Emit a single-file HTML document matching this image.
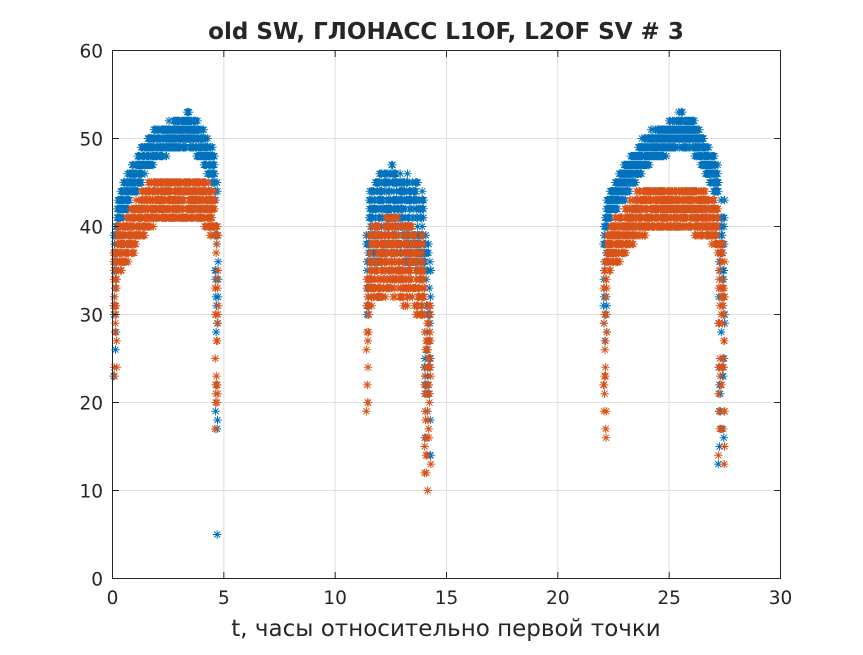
<!DOCTYPE html>
<html><head><meta charset="utf-8"><style>
body{margin:0;background:#fff}
svg text{font-family:"DejaVu Sans","Liberation Sans",sans-serif;fill:#262626}
</style></head><body>
<svg id="s" width="863" height="650" xmlns="http://www.w3.org/2000/svg">
<rect width="863" height="650" fill="#fff"/>
<g id="grid" stroke="#dfdfdf" stroke-width="1"></g>
<g id="data"></g>
<rect x="112.5" y="50.5" width="668" height="528" fill="none" stroke="#262626" stroke-width="1"/>
<g id="ticks" stroke="#262626"></g>
<g id="lbl" font-size="18.5"></g>
<text x="446" y="39" font-size="23" font-weight="bold" text-anchor="middle" fill="#000">old SW, ГЛОНАСС L1OF, L2OF SV # 3</text>
<text x="446" y="636" font-size="23" text-anchor="middle">t, часы относительно первой точки</text>
</svg>
<script>
var X=function(t){return 112.5+t*668/30},Y=function(v){return 578.5-v*528/60};
var g=document.getElementById('grid'),tk=document.getElementById('ticks'),lb=document.getElementById('lbl');
var ns='http://www.w3.org/2000/svg';
function el(p,n,a,txt){var e=document.createElementNS(ns,n);for(var k in a)e.setAttribute(k,a[k]);if(txt!=null)e.textContent=txt;p.appendChild(e);return e;}
for(var i=0;i<=6;i++){var x=X(i*5);el(g,'line',{x1:x,x2:x,y1:50.5,y2:578.5});el(tk,'line',{x1:x,x2:x,y1:578.5,y2:572});el(tk,'line',{x1:x,x2:x,y1:50.5,y2:57});
el(lb,'text',{x:x,y:604,'text-anchor':'middle'},String(i*5));}
for(var i=0;i<=6;i++){var y=Y(i*10);el(g,'line',{x1:112.5,x2:780.5,y1:y,y2:y});el(tk,'line',{x1:112.5,x2:119,y1:y,y2:y});el(tk,'line',{x1:780.5,x2:774,y1:y,y2:y});
el(lb,'text',{x:103,y:y+7,'text-anchor':'end'},String(i*10));}
var seed=7;function r(){seed=(seed*16807)%2147483647;return seed/2147483647;}
function interp(pts,t){for(var i=0;i<pts.length-1;i++){if(t<=pts[i+1][0]){var a=pts[i],b=pts[i+1];return a[1]+(b[1]-a[1])*(t-a[0])/(b[0]-a[0]);}}return pts[pts.length-1][1];}
var passes=[
 {t0:0.05,t1:4.75,B:[[0,40],[0.5,43],[1,45.5],[1.5,48],[2,49.5],[3,50.5],[3.5,51],[4,49.5],[4.5,47],[4.75,46]],O:[[0,37],[0.5,38],[1,40],[1.5,42],[2,43],[3,43],[4,43],[4.5,41.5],[4.75,40]],sB:3.5,sO:5,eL:0.15,eR:0.15,lB:23,lO:23,rB:12,rO:13},
 {t0:11.4,t1:14.3,B:[[11.4,39],[12,41],[12.5,42],[13,41],[13.5,40],[14,40],[14.3,38]],O:[[11.4,35],[12,36],[12.5,37],[13,36],[13.5,35],[14,34],[14.3,31]],sB:10,sO:9,eL:0.12,eR:0.3,lB:28,lO:17,rB:11,rO:9},
 {t0:22.05,t1:27.5,B:[[22,41],[22.5,43],[23,45],[23.5,47],[24,48.5],[24.5,49.5],[25,50],[25.5,51],[26,50.5],[26.5,48.5],[27,46],[27.5,44]],O:[[22,36],[22.5,38],[23,39.5],[23.5,41],[24,42],[25,42],[26,42],[26.5,41.5],[27,40.5],[27.5,38]],sB:3.5,sO:5,eL:0.15,eR:0.3,lB:23,lO:15,rB:8,rO:8}
];
function star(t,v){var x=X(t),y=Y(v),a=4.2,b=3;return 'M'+(x-a)+' '+y+'h'+(2*a)+'M'+x+' '+(y-a)+'v'+(2*a)+'M'+(x-b)+' '+(y-b)+'l'+(2*b)+' '+(2*b)+'M'+(x-b)+' '+(y+b)+'l'+(2*b)+' '+(-2*b);}
function gen(p,key,s,low,rlow){var d='';for(var t=p.t0;t<=p.t1;t+=0.005){var f=interp(p[key],t),v;
 if(t-p.t0<p.eL){v=low+(f-low)*Math.pow(r(),0.6);}
 else if(p.t1-t<p.eR){v=rlow+(f-rlow)*Math.pow(r(),0.5);}
 else v=f+(r()-0.5)*s;
 d+=star(t,Math.round(v));}
 return d;}
var dB='',dO='';
passes.forEach(function(p){dB+=gen(p,'B',p.sB,p.lB,p.rB);});
dB+=star(4.7,5);
passes.forEach(function(p){dO+=gen(p,'O',p.sO,p.lO,p.rO);});
var dg=document.getElementById('data');
el(dg,'path',{d:dB,stroke:'#0072BD','stroke-width':'1',fill:'none'});
el(dg,'path',{d:dO,stroke:'#D95319','stroke-width':'1',fill:'none'});
</script>
</body></html>
